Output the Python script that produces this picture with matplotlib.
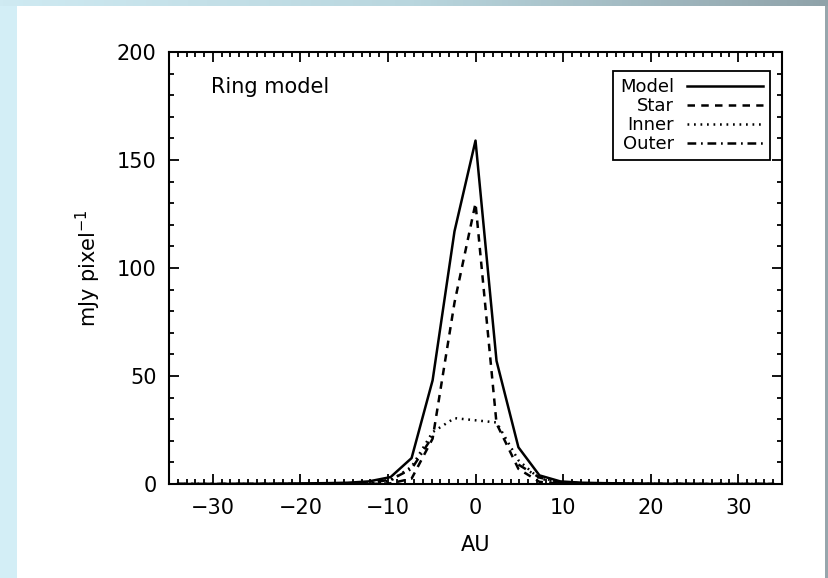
import numpy as np
import matplotlib
matplotlib.use('Agg')
import matplotlib.pyplot as plt
from matplotlib.ticker import MultipleLocator
from matplotlib.colors import LinearSegmentedColormap

# radial cut through the model image, AU
au = [-34.0, -31.6, -29.2, -26.7, -24.3, -21.9, -19.4, -17.0, -14.6, -12.2,
      -9.7, -7.3, -4.9, -2.4, 0.0, 2.4, 4.9, 7.3, 9.7, 12.2,
      14.6, 17.0, 19.4, 21.9, 24.3, 26.7, 29.2, 31.6, 34.0]
model = [0.0, 0.0, 0.0, 0.1, 0.1, 0.2, 0.3, 0.4, 0.6, 1.2,
         3.2, 12.0, 48.0, 117.0, 159.0, 57.0, 17.0, 4.0, 1.2, 0.6,
         0.4, 0.3, 0.2, 0.1, 0.1, 0.0, 0.0, 0.0, 0.0]
star = [0.0, 0.0, 0.0, 0.0, 0.0, 0.0, 0.0, 0.0, 0.0, 0.0,
        0.3, 2.5, 21.0, 84.0, 130.0, 28.0, 7.0, 1.0, 0.2, 0.0,
        0.0, 0.0, 0.0, 0.0, 0.0, 0.0, 0.0, 0.0, 0.0]
inner = [0.0, 0.0, 0.0, 0.0, 0.0, 0.0, 0.0, 0.0, 0.1, 0.3,
         1.5, 8.0, 24.0, 30.5, 29.5, 28.5, 11.0, 2.5, 0.8, 0.3,
         0.1, 0.0, 0.0, 0.0, 0.0, 0.0, 0.0, 0.0, 0.0]
# outer ring only shows on the flanks in the figure
nan = float('nan')
outer = [0.0, 0.0, 0.0, 0.0, 0.0, 0.0, 0.0, 0.1, 0.2, 0.5,
         2.0, 7.0, 22.0, nan, nan, nan, 9.0, 3.0, 0.8, 0.3,
         0.1, 0.0, 0.0, 0.0, 0.0, 0.0, 0.0, 0.0, 0.0]

plt.rcParams['font.family'] = ['DejaVu Sans']

fig = plt.figure(figsize=(8.29, 5.78), dpi=100)
fig.patch.set_facecolor('#d3eef6')

# slide background: white panel, gradient strip on top, grey edge on the right
bg = fig.add_axes([0, 0, 1, 1])
bg.set_xlim(0, 829)
bg.set_ylim(578, 0)
bg.axis('off')
grad = np.linspace(0, 1, 256).reshape(1, -1)
cm = LinearSegmentedColormap.from_list('strip', ['#cfeaf2', '#b9d6de', '#8fa2a9'])
bg.imshow(grad, cmap=cm, extent=[0, 829, 6, 0], aspect='auto')
bg.add_patch(plt.Rectangle((17, 6), 808, 572, color='white', lw=0))
bg.add_patch(plt.Rectangle((825, 6), 4, 572, color='#97a6ac', lw=0))

ax = fig.add_axes([0.2039, 0.1626, 0.7394, 0.7474])
ax.set_facecolor('none')
lw = 1.8
ax.plot(au, model, color='black', lw=lw, ls='-', label='Model')
ax.plot(au, star, color='black', lw=lw, dashes=(3, 2.5), label='Star')
ax.plot(au, inner, color='black', lw=lw, dashes=(0.7, 1.9), label='Inner')
ax.plot(au, outer, color='black', lw=lw, dashes=(3.5, 1.9, 0.7, 1.9), label='Outer')

ax.set_xlim(-35, 35)
ax.set_ylim(0, 200)
ax.xaxis.set_major_locator(MultipleLocator(10))
ax.xaxis.set_minor_locator(MultipleLocator(1))
ax.yaxis.set_major_locator(MultipleLocator(50))
ax.yaxis.set_minor_locator(MultipleLocator(10))
ax.tick_params(which='both', direction='in', top=True, right=True, width=1.3,
               labelsize=15, colors='black')
ax.tick_params(axis='x', which='major', length=7, pad=10)
ax.tick_params(axis='y', which='major', length=7, pad=9)
ax.tick_params(which='minor', length=3.5)
for s in ax.spines.values():
    s.set_linewidth(1.5)

ax.set_xlabel('AU', fontsize=15, labelpad=12)
ax.set_ylabel('mJy pixel$^{-1}$', fontsize=15, labelpad=10)
ax.text(-30.2, 184, 'Ring model', fontsize=15, ha='left', va='center')

leg = ax.legend(loc='upper right', bbox_to_anchor=(0.980, 0.956), fontsize=13,
                markerfirst=False, frameon=True, fancybox=False, framealpha=1,
                edgecolor='black', handlelength=4.2, handletextpad=0.7,
                labelspacing=0.05, borderpad=0.4, borderaxespad=0)
leg.get_frame().set_linewidth(1.3)

fig.savefig('out.png', dpi=100)
